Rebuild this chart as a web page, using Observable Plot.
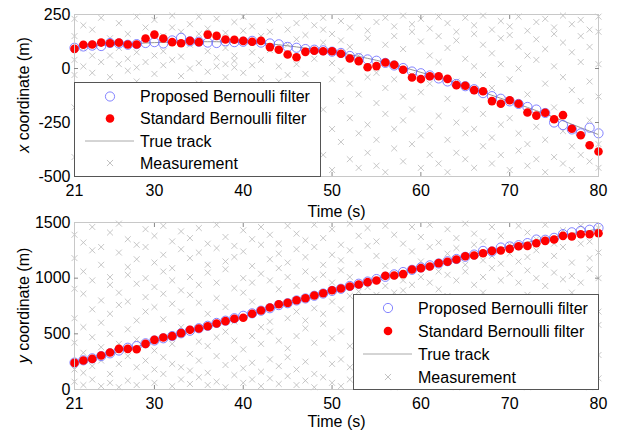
<!DOCTYPE html>
<html><head><meta charset="utf-8">
<script src="https://cdn.jsdelivr.net/npm/d3@7"></script>
<script src="https://cdn.jsdelivr.net/npm/@observablehq/plot@0.6"></script>
<style>
body{margin:0;background:#fff;font-family:"Liberation Sans",Arial,sans-serif;}
#wrap{position:relative;width:619px;height:434px;overflow:hidden;background:#fff;}
#top,#bot{position:absolute;left:0;}
#top{top:0;z-index:2;} #bot{top:206px;z-index:1;}
.legend{position:absolute;background:#fff;border:1px solid #555;box-sizing:border-box;z-index:3;}
.legend svg{position:absolute;left:0;top:0;}
</style>
</head><body>
<div id="wrap"><div id="top"></div><div id="bot"></div></div>
<script>
// ---- data ----
const times = d3.range(21, 81);
const xTickLabels = [21, 30, 40, 50, 60, 70, 80];
const topYTicks = [250, 0, -250, -500];
const botYTicks = [1500, 1000, 500, 0];

// x coordinate (m)
const xTrue = [98,101,104,107,110,112,114,116,118,120, 121,122,123,124,124,124,124,123,122,121,
  119,117,114,110,105,100,94,89,84,79, 72,64,56,47,38,28,17,6,-6,-18,
  -30,-42,-55,-68,-82,-96,-110,-124,-138,-152, -166,-180,-195,-210,-226,-242,-258,-274,-290,-306];
const xProposed = [96,102,106,104,118,116,110,113,118,122, 116,130,142,126,124,120,118,126,122,124,
  128,120,116,112,100,96,90,87,84,78, 72,58,48,42,36,26,14,2,-14,-22,
  -32,-46,-60,-72,-82,-96,-114,-128,-140,-152, -164,-178,-190,-206,-250,-262,-282,-300,-274,-300];
const xStandard = [91,110,111,120,117,120,111,111,139,157, 139,122,117,128,122,157,151,134,133,128,
  124,128,99,87,65,52,77,82,80,80, 68,46,34,6,11,28,17,-6,-42,-49,
  -36,-36,-48,-77,-80,-100,-105,-151,-163,-147, -163,-204,-218,-205,-235,-216,-279,-309,-355,-384];

// y coordinate (m)
const yTrue = [240,258,277,298,320,342,364,386,408,430, 452,474,496,518,540,562,585,608,631,654,
  677,700,723,746,769,792,815,838,861,884, 906,928,950,972,994,1015,1036,1057,1078,1098,
  1118,1138,1158,1177,1196,1215,1234,1252,1270,1288, 1305,1322,1338,1354,1370,1385,1400,1414,1428,1442];
const yProposed = [242,262,280,300,325,350,375,390,415,440, 460,480,505,528,550,572,598,618,640,662,
  684,708,730,758,775,800,818,842,862,886, 905,930,950,970,992,1012,1034,1055,1075,1096,
  1115,1132,1152,1172,1192,1212,1245,1240,1275,1285, 1296,1315,1347,1345,1362,1395,1412,1425,1435,1452];
const yStandard = [239,260,275,305,332,365,365,362,410,446, 467,479,506,536,548,568,593,614,635,644,
  680,710,736,766,778,802,820,844,865,892, 907,925,943,964,979,1021,1024,1036,1078,1090,
  1105,1135,1147,1168,1197,1203,1224,1245,1248,1263, 1287,1290,1314,1335,1347,1380,1374,1395,1395,1404];

// clutter measurements, one list per time step (21..80)
const measX = [
 [230,40,-30,-180,-410,150],[200,95,10,-120,-350,-470],[180,-20,60,-260,-440],[235,120,30,-90,-300,-480],
 [60,140,-40,-200,-380],[210,20,95,-150,-420],[160,45,-10,-240,-330,-460],[240,75,5,-60,-280],
 [190,130,30,-170,-400],[225,60,-25,-310,-450],[150,15,80,-210,-360],[245,190,40,-100,-470],
 [170,55,-35,-250,-390],[205,110,0,-140,-320,-430],[240,160,25,-70,-290],[185,80,-15,-220,-410],
 [230,50,10,-180,-350,-480],[165,95,20,-40,-260],[215,60,35,5,-130,-370],[240,175,-20,-300,-440],
 [195,75,15,-90,-230],[150,40,-45,-330,-460],[225,170,85,-160,-390],[245,10,-60,-270,-420],
 [180,110,-30,-200,-350],[210,135,20,-110,-480],[240,155,-25,-240,-380],[200,45,-80,-310,-440],
 [235,180,120,-190,-400],[160,25,-50,-280,-470],[220,130,-10,-150,-340],[190,100,-70,-230,-420],
 [240,60,-120,-300,-460],[175,140,-40,-260,-390],[215,-20,-160,-330,-450],[235,110,-90,-210,-480],
 [195,150,-50,-280,-370],[245,90,-130,-240,-430],[205,170,-30,-190,-350],[230,125,-110,-310,-460],
 [185,60,-70,-270,-400],[240,150,30,-220,-440],[210,95,-140,-330,-480],[170,130,-60,-250,-390],
 [235,45,-190,-300,-420],[200,160,10,-280,-460],[245,110,-30,-210,-360],[180,70,-90,-320,-440],
 [220,140,20,-260,-400],[195,155,-50,-230,-470],[240,100,0,-300,-380],[175,60,-120,-350,-450],
 [215,135,40,-270,-420],[230,90,-70,-330,-480],[190,160,10,-180,-410],[245,120,-40,-290,-440],
 [205,75,-100,-360,-470],[225,150,30,-150,-400],[180,100,-60,-240,-430],[240,170,20,-130,-350,-460]
];
const measY = [
 [1390,1180,905,640,420,180,70],[1320,1060,860,560,330,150,40],[1460,1250,980,720,470,210,90],
 [1280,1120,800,600,380,260,30],[1410,1010,940,680,500,140,60],[1490,1230,870,760,410,230,20],
 [1350,1100,1030,790,540,300,80],[1300,1170,950,620,450,200,40],[1440,1280,1000,830,700,260,110],
 [1380,1140,920,740,350,180,60],[1470,1210,1060,860,630,290,140],[1330,1090,980,770,410,230,30],
 [1420,1260,890,700,560,200,90],[1360,1180,1010,850,320,170,50],[1450,1230,940,780,430,260,110],
 [1310,1120,1050,680,390,150,40],[1480,1270,960,820,470,300,70],[1370,1150,1080,740,520,220,20],
 [1290,1190,910,610,440,280,130],[1430,1240,1000,870,360,190,60],[1350,1110,960,790,480,240,90],
 [1460,1300,1040,560,410,160,30],[1390,1170,980,610,520,270,100],[1310,1220,1090,900,440,210,50],
 [1470,1140,1010,640,370,290,120],[1400,1260,930,700,480,180,40],[1340,1190,1060,620,550,250,80],
 [1480,1280,990,730,420,140,20],[1360,1120,1030,680,590,320,110],[1440,1210,960,790,460,230,60],
 [1300,1160,1070,720,520,270,30],[1490,1250,1010,840,390,200,90],[1380,1130,880,760,610,300,140],
 [1450,1290,920,680,470,240,50],[1330,1200,850,790,560,180,100],[1470,1110,930,720,430,330,70],
 [1390,1160,870,660,510,260,20],[1310,980,890,780,600,210,120],[1460,1240,940,710,440,300,60],
 [1370,1150,1010,820,530,250,90],[1480,1280,960,690,480,170,40],[1320,1060,900,760,570,310,130],
 [1440,1220,1030,840,420,230,70],[1360,1270,980,710,620,280,20],[1490,1120,1060,790,500,190,110],
 [1400,1300,940,660,450,340,60],[1330,1160,1010,870,560,240,30],[1460,1200,1090,730,480,290,100],
 [1380,1130,980,820,610,200,50],[1300,1220,1040,690,430,320,140],[1470,1150,960,780,540,260,80],
 [1410,1190,1070,850,470,210,20],[1350,1250,1000,720,590,300,110],[1480,1120,930,800,520,180,60],
 [1310,1200,1050,760,440,270,90],[1430,1280,990,690,600,330,40],[1370,1140,1020,870,480,220,130],
 [1470,1310,960,750,550,290,70],[1330,1180,1080,820,420,240,20],[1450,1230,1000,700,580,310,100]
];

// ---- build tables ----
const track = (vals) => times.map((t, i) => ({t, v: vals[i]}));
const clutter = (lists) => lists.flatMap((vs, i) => vs.map(v => ({t: times[i], v})));

const FONT = "'Liberation Sans', Arial, sans-serif";
const fmt = d => String(d);

function panel({trueV, propV, stdV, meas, yDomain, yTicks, yInner, height, marginTop, marginBottom, labelDy}) {
  return Plot.plot({
    width: 619, height, marginLeft: 74, marginRight: 21, marginTop, marginBottom,
    style: {fontFamily: FONT, fontSize: "16px", color: "#000", background: "transparent", overflow: "visible"},
    x: {domain: [21, 80]},
    y: {domain: yDomain},
    marks: [
      Plot.dot(clutter(meas), {x: "t", y: "v", symbol: "times", r: 2.8, stroke: "#b9b9b9", strokeWidth: 0.8}),
      Plot.line(track(trueV), {x: "t", y: "v", stroke: "#999", strokeWidth: 1}),
      Plot.dot(track(propV), {x: "t", y: "v", r: 4.6, stroke: "#6464ff", strokeWidth: 0.8, fill: "none"}),
      Plot.dot(track(stdV), {x: "t", y: "v", r: 4.3, fill: "#ff0000", stroke: "none"}),
      Plot.frame({stroke: "#c8c8c8"}),
      Plot.axisX([30, 40, 50, 60, 70], {anchor: "bottom", tickSize: 4, dy: -4, text: null, label: null, stroke: "#888"}),
      Plot.axisX([30, 40, 50, 60, 70], {anchor: "top", tickSize: 4, dy: 4, text: null, label: null, stroke: "#888"}),
      Plot.axisY(yInner, {anchor: "left", tickSize: 4, dx: 4, text: null, label: null, stroke: "#888"}),
      Plot.axisY(yInner, {anchor: "right", tickSize: 4, dx: -4, text: null, label: null, stroke: "#888"}),
      Plot.axisX(xTickLabels, {anchor: "bottom", tickSize: 0, tickPadding: 8, fontSize: 16, tickFormat: fmt, label: null, fill: "#000"}),
      Plot.axisY(yTicks, {anchor: "left", tickSize: 0, tickPadding: 4, fontSize: 16, tickFormat: fmt, label: null, fill: "#000"}),
      Plot.text(["Time (s)"], {frameAnchor: "bottom", lineAnchor: "middle", dy: labelDy, fontSize: 16, fill: "#000"})
    ]
  });
}

// top panel: frame y 14..176 ; bottom panel (offset 206): frame y 222..389
const topSvg = panel({trueV: xTrue, propV: xProposed, stdV: xStandard, meas: measX,
  yDomain: [-500, 250], yTicks: topYTicks, yInner: [0, -250], height: 228, marginTop: 14, marginBottom: 52, labelDy: 35.5});
const botSvg = panel({trueV: yTrue, propV: yProposed, stdV: yStandard, meas: measY,
  yDomain: [0, 1500], yTicks: botYTicks, yInner: [500, 1000], height: 228, marginTop: 16, marginBottom: 45, labelDy: 32});

document.getElementById("top").appendChild(topSvg);
document.getElementById("bot").appendChild(botSvg);

function yLabel(svg, letter, cy) {
  const t = d3.select(svg).append("text")
    .attr("transform", `translate(23,${cy}) rotate(-90)`)
    .attr("text-anchor", "middle").attr("dominant-baseline", "central")
    .attr("font-size", 16).attr("font-family", FONT).attr("fill", "#000");
  t.append("tspan").attr("font-style", "italic").text(letter);
  t.append("tspan").text(" coordinate (m)");
}
yLabel(topSvg, "x", 95);
yLabel(botSvg, "y", 99.5);

// ---- legends ----
const legendItems = ["Proposed Bernoulli filter", "Standard Bernoulli filter", "True track", "Measurement"];
function legend(box, symX, textX, rows, lineX) {
  const div = document.createElement("div");
  div.className = "legend";
  Object.assign(div.style, {left: box[0] + "px", top: box[1] + "px", width: box[2] + "px", height: box[3] + "px"});
  const s = d3.select(div).append("svg").attr("width", box[2]).attr("height", box[3]);
  const g = s.append("g").attr("transform", "translate(-1,-1)");
  g.append("circle").attr("cx", symX).attr("cy", rows[0]).attr("r", 4.6).attr("fill", "none").attr("stroke", "#6464ff").attr("stroke-width", 0.8);
  g.append("circle").attr("cx", symX).attr("cy", rows[1]).attr("r", 4.3).attr("fill", "#ff0000");
  g.append("line").attr("x1", lineX[0]).attr("x2", lineX[1]).attr("y1", rows[2]).attr("y2", rows[2]).attr("stroke", "#aaa").attr("stroke-width", 1);
  g.append("path").attr("d", d3.symbol(d3.symbolTimes, 26)()).attr("transform", `translate(${symX},${rows[3]})`).attr("fill", "none").attr("stroke", "#bbb").attr("stroke-width", 0.9);
  legendItems.forEach((txt, i) => {
    g.append("text").attr("x", textX).attr("y", rows[i]).attr("dominant-baseline", "central")
      .attr("font-size", 16).attr("font-family", FONT).attr("fill", "#000").text(txt);
  });
  document.getElementById("wrap").appendChild(div);
}
legend([74, 82, 247, 95], 36, 66, [14.5, 36.5, 59, 81], [11, 60]);
legend([353, 294, 246, 96], 35, 65, [14, 37, 60, 83], [10, 59]);
</script>
</body></html>
